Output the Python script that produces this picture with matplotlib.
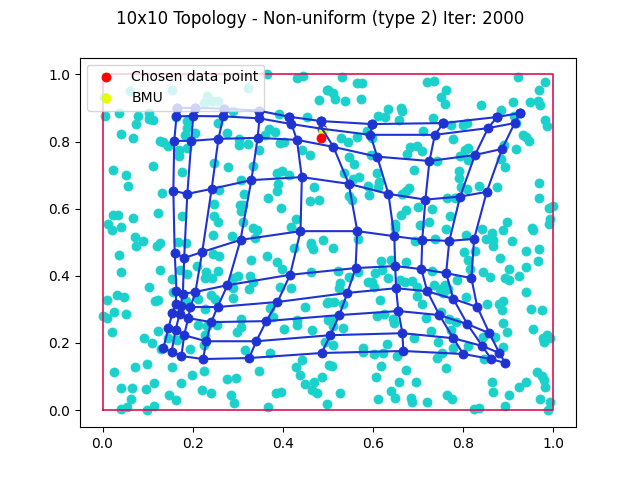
import matplotlib
matplotlib.use("Agg")
import matplotlib.pyplot as plt
import numpy as np

data_x = [.365,.431,.445,.061,.155,.322,.003,.231,.224,.242,.257,.006,.037,.079,.102,.102,.113,.074,.042,.068,.162,.187,.187,.205,.183,.255,.277,.290,.392,.454,.479,.497,.370,.382,.360,.394,.402,.303,.303,.322,.127,.135,.146,.170,.170,.187,.346,.442,.459,.024,.051,.057,.113,.176,.248,.279,.334,.386,.397,.414,.306,.390,.388,.131,.259,.314,.366,.470,.461,.479,.248,.305,.312,.308,.396,.124,.176,.248,.255,.312,.429,.024,.035,.068,.013,.020,.042,.334,.342,.417,.244,.288,.071,.090,.127,.168,.185,.338,.462,.490,
 .530,.564,.576,.499,.510,.516,.538,.574,.720,.734,.762,.750,.760,.840,.911,.922,.982,.969,.948,.966,.970,.884,.632,.610,.626,.663,.665,.658,.733,.772,.800,.808,.912,.918,.982,.985,.711,.778,.586,.565,.545,.528,.597,.933,.940,.946,.916,.890,.682,.697,.709,.676,.595,.547,.558,.742,.691,.793,.804,.811,.811,.883,.893,.791,.791,.796,.809,.835,.875,.536,.555,.569,.609,.588,.612,.610,.590,.547,.553,.680,.673,.665,.765,.782,.969,.969,.991,.998,.993,.990,.952,.954,.700,.731,.672,.663,.770,.648,.648,.723,.704,.762,.842,.863,.889,.896,.805,.851,.866,.909,.737,.693,.567,
 .037,.042,.074,.120,.128,.102,.031,.048,.010,.026,.052,.002,.009,.022,.116,.124,.124,.091,.110,.130,.146,.165,.193,.224,.171,.187,.153,.157,.210,.229,.227,.243,.255,.246,.259,.290,.301,.327,.334,.325,.330,.364,.388,.399,.425,.463,.466,.463,.394,.419,.289,.240,.249,.212,.290,.185,.228,.449,.371,.377,.308,.212,.231,.253,.228,.307,.299,.432,.432,.403,.465,.499,.497,.502,.315,.372,.443,.428,.438,.450,.470,.486,.464,.475,.026,.071,.098,.153,.224,.198,.173,.115,.096,.066,.042,.064,.055,.042,.114,.099,.148,.162,.221,.240,.275,.295,.284,.291,.348,.384,.396,.368,.497,
 .510,.617,.640,.674,.802,.826,.810,.815,.867,.882,.940,.968,.966,.940,.902,.924,.844,.859,.892,.902,.940,.523,.567,.547,.604,.619,.632,.527,.525,.588,.597,.603,.660,.671,.686,.698,.731,.787,.736,.759,.748,.766,.755,.807,.698,.709,.615,.499,.513,.533,.852,.880,.889,.885,.951,.975,.609,.624,.645,.646,.717,.750,.769,.784,.508,.534,.512,.887,.896,.955,.985,.976,.992,.979,.729,.745,.772,.691,.630,.577,.577,.603,.623,.654,.493,.512,.752,.742,.778,.811,.844,.870,.889,.846,.508,.618,.606,.672,.762,.658,.696,.640,.648,.683,.686,.720,.610,.527,.763,.774,.864,.867,.902,.924,.940,.963,.974,.979,.982,.971,.992,.989,.893,.824,.834]
data_y = [1.0,.988,.994,.950,.955,.960,.933,.935,.915,.920,.920,.877,.885,.877,.885,.867,.863,.852,.823,.811,.873,.860,.840,.825,.820,.855,.825,.890,.883,.873,.923,.953,.837,.827,.820,.796,.798,.807,.790,.793,.801,.798,.788,.776,.756,.781,.776,.774,.759,.715,.700,.667,.727,.709,.736,.724,.726,.707,.713,.699,.686,.674,.652,.647,.656,.644,.632,.666,.622,.625,.614,.610,.610,.592,.602,.587,.579,.577,.560,.560,.569,.581,.581,.572,.555,.537,.545,.542,.537,.544,.521,.520,.515,.505,.499,.502,.499,.512,.499,.507,
 .993,.975,.975,.955,.945,.927,.921,.927,.978,.980,.953,.933,.912,.909,.918,.993,.978,.953,.918,.922,.908,.894,.897,.877,.873,.899,.890,.865,.870,.848,.850,.855,.875,.855,.865,.847,.832,.808,.830,.813,.800,.810,.810,.818,.813,.803,.778,.790,.784,.788,.772,.764,.759,.754,.734,.741,.715,.756,.774,.781,.744,.748,.724,.713,.691,.666,.658,.668,.664,.706,.688,.694,.706,.668,.678,.666,.642,.639,.625,.661,.654,.644,.632,.632,.677,.632,.602,.609,.569,.555,.542,.537,.605,.599,.597,.582,.579,.555,.542,.560,.552,.540,.539,.527,.535,.560,.522,.510,.507,.503,.509,.503,.509,
 .462,.412,.488,.488,.417,.366,.343,.336,.328,.293,.287,.281,.274,.232,.324,.328,.235,.215,.199,.182,.214,.209,.182,.194,.416,.406,.390,.353,.429,.411,.393,.393,.413,.466,.458,.393,.398,.398,.383,.360,.446,.460,.441,.421,.483,.492,.479,.410,.366,.363,.363,.343,.331,.332,.334,.324,.301,.306,.304,.277,.271,.254,.251,.254,.224,.247,.232,.269,.254,.242,.239,.269,.319,.135,.179,.169,.149,.128,.105,.078,.085,.098,.060,.052,.113,.128,.137,.128,.116,.105,.080,.082,.062,.065,.065,.032,.009,.003,.012,-.001,.045,.029,.060,.050,.092,.095,.045,.022,.116,.050,.053,.009,.018,
 .483,.443,.447,.440,.471,.473,.446,.420,.489,.453,.473,.479,.445,.427,.419,.400,.411,.396,.393,.386,.351,.413,.411,.396,.408,.418,.394,.380,.363,.381,.383,.366,.386,.381,.384,.368,.413,.387,.372,.373,.360,.360,.349,.336,.341,.317,.329,.321,.323,.317,.317,.317,.325,.297,.302,.298,.281,.285,.272,.259,.274,.293,.272,.261,.269,.244,.251,.259,.232,.242,.224,.214,.214,.204,.236,.204,.239,.214,.196,.186,.174,.166,.169,.161,.202,.194,.171,.155,.184,.191,.219,.219,.189,.152,.132,.132,.098,.120,.125,.083,.083,.056,.036,.035,.025,.023,.032,.050,.045,.034,.083,.055,.045,.068,.083,.113,.102,.090,.068,.032,.024,.000,.013,.003,.005]

node_x0 = [.165,.204,.269,.346,.413,.484,.598,.756,.875,.926]
node_y0 = [.900,.900,.898,.892,.874,.861,.852,.855,.873,.885]
node_x1 = [.164,.201,.268,.348,.419,.487,.594,.737,.855,.914]
node_y1 = [.875,.876,.875,.869,.852,.838,.820,.820,.840,.855]
node_x2 = [.159,.197,.257,.344,.431,.512,.609,.725,.826,.886]
node_y2 = [.802,.802,.808,.811,.805,.784,.755,.742,.760,.778]
node_x3 = [.157,.188,.242,.330,.442,.546,.634,.716,.793,.852]
node_y3 = [.653,.644,.659,.685,.694,.674,.644,.627,.636,.650]
node_x4 = [.160,.181,.221,.306,.439,.565,.647,.709,.769,.824]
node_y4 = [.468,.453,.471,.507,.533,.533,.518,.507,.504,.510]
node_x5 = [.164,.178,.206,.277,.416,.561,.649,.707,.762,.818]
node_y5 = [.355,.346,.352,.372,.403,.423,.429,.420,.408,.393]
node_x6 = [.162,.173,.195,.255,.388,.543,.651,.720,.778,.831]
node_y6 = [.315,.311,.307,.307,.322,.349,.363,.354,.331,.307]
node_x7 = [.155,.171,.190,.241,.363,.525,.656,.747,.809,.858]
node_y7 = [.289,.287,.274,.262,.265,.283,.295,.283,.256,.229]
node_x8 = [.146,.162,.181,.230,.341,.505,.665,.778,.842,.880]
node_y8 = [.244,.239,.223,.205,.205,.223,.229,.214,.191,.170]
node_x9 = [.135,.153,.175,.223,.325,.486,.667,.800,.862,.893]
node_y9 = [.185,.173,.161,.152,.155,.170,.176,.167,.152,.140]

chosen_point = (.484, .811)
bmu_point = (.490, .832)
boundary_x = [0, 1, 1, 0, 0]
boundary_y = [0, 0, 1, 1, 0]

grid_x = np.array([node_x0,node_x1,node_x2,node_x3,node_x4,node_x5,node_x6,node_x7,node_x8,node_x9])
grid_y = np.array([node_y0,node_y1,node_y2,node_y3,node_y4,node_y5,node_y6,node_y7,node_y8,node_y9])

fig, ax = plt.subplots(figsize=(6.4, 4.8), dpi=100)
ax.scatter(data_x, data_y, color="#1ad1cc", s=42, linewidths=0.6, zorder=2)
ax.plot(boundary_x, boundary_y, color="#dc1450", lw=1.2, zorder=2.2)
blue = "#1f32d2"
ax.scatter(grid_x.ravel(), grid_y.ravel(), color=blue, s=42, linewidths=0.6, zorder=2.8)
ax.scatter(*bmu_point, color="#e4ff00", s=42, linewidths=0.6, zorder=2.9, label="BMU")
ax.plot(grid_x, grid_y, color=blue, lw=1.5, zorder=3)
ax.plot(grid_x.T, grid_y.T, color=blue, lw=1.5, zorder=3)
ax.scatter(node_x0, node_y0, color=blue, s=42, linewidths=0.6, zorder=3.05)
ax.scatter(*chosen_point, color="red", s=42, linewidths=0.6, zorder=3.2, label="Chosen data point")
handles, labels = ax.get_legend_handles_labels()
ax.legend(handles[::-1], labels[::-1], loc="upper left")
fig.suptitle("10x10 Topology - Non-uniform (type 2) Iter: 2000")
fig.savefig("out.png", dpi=100)
